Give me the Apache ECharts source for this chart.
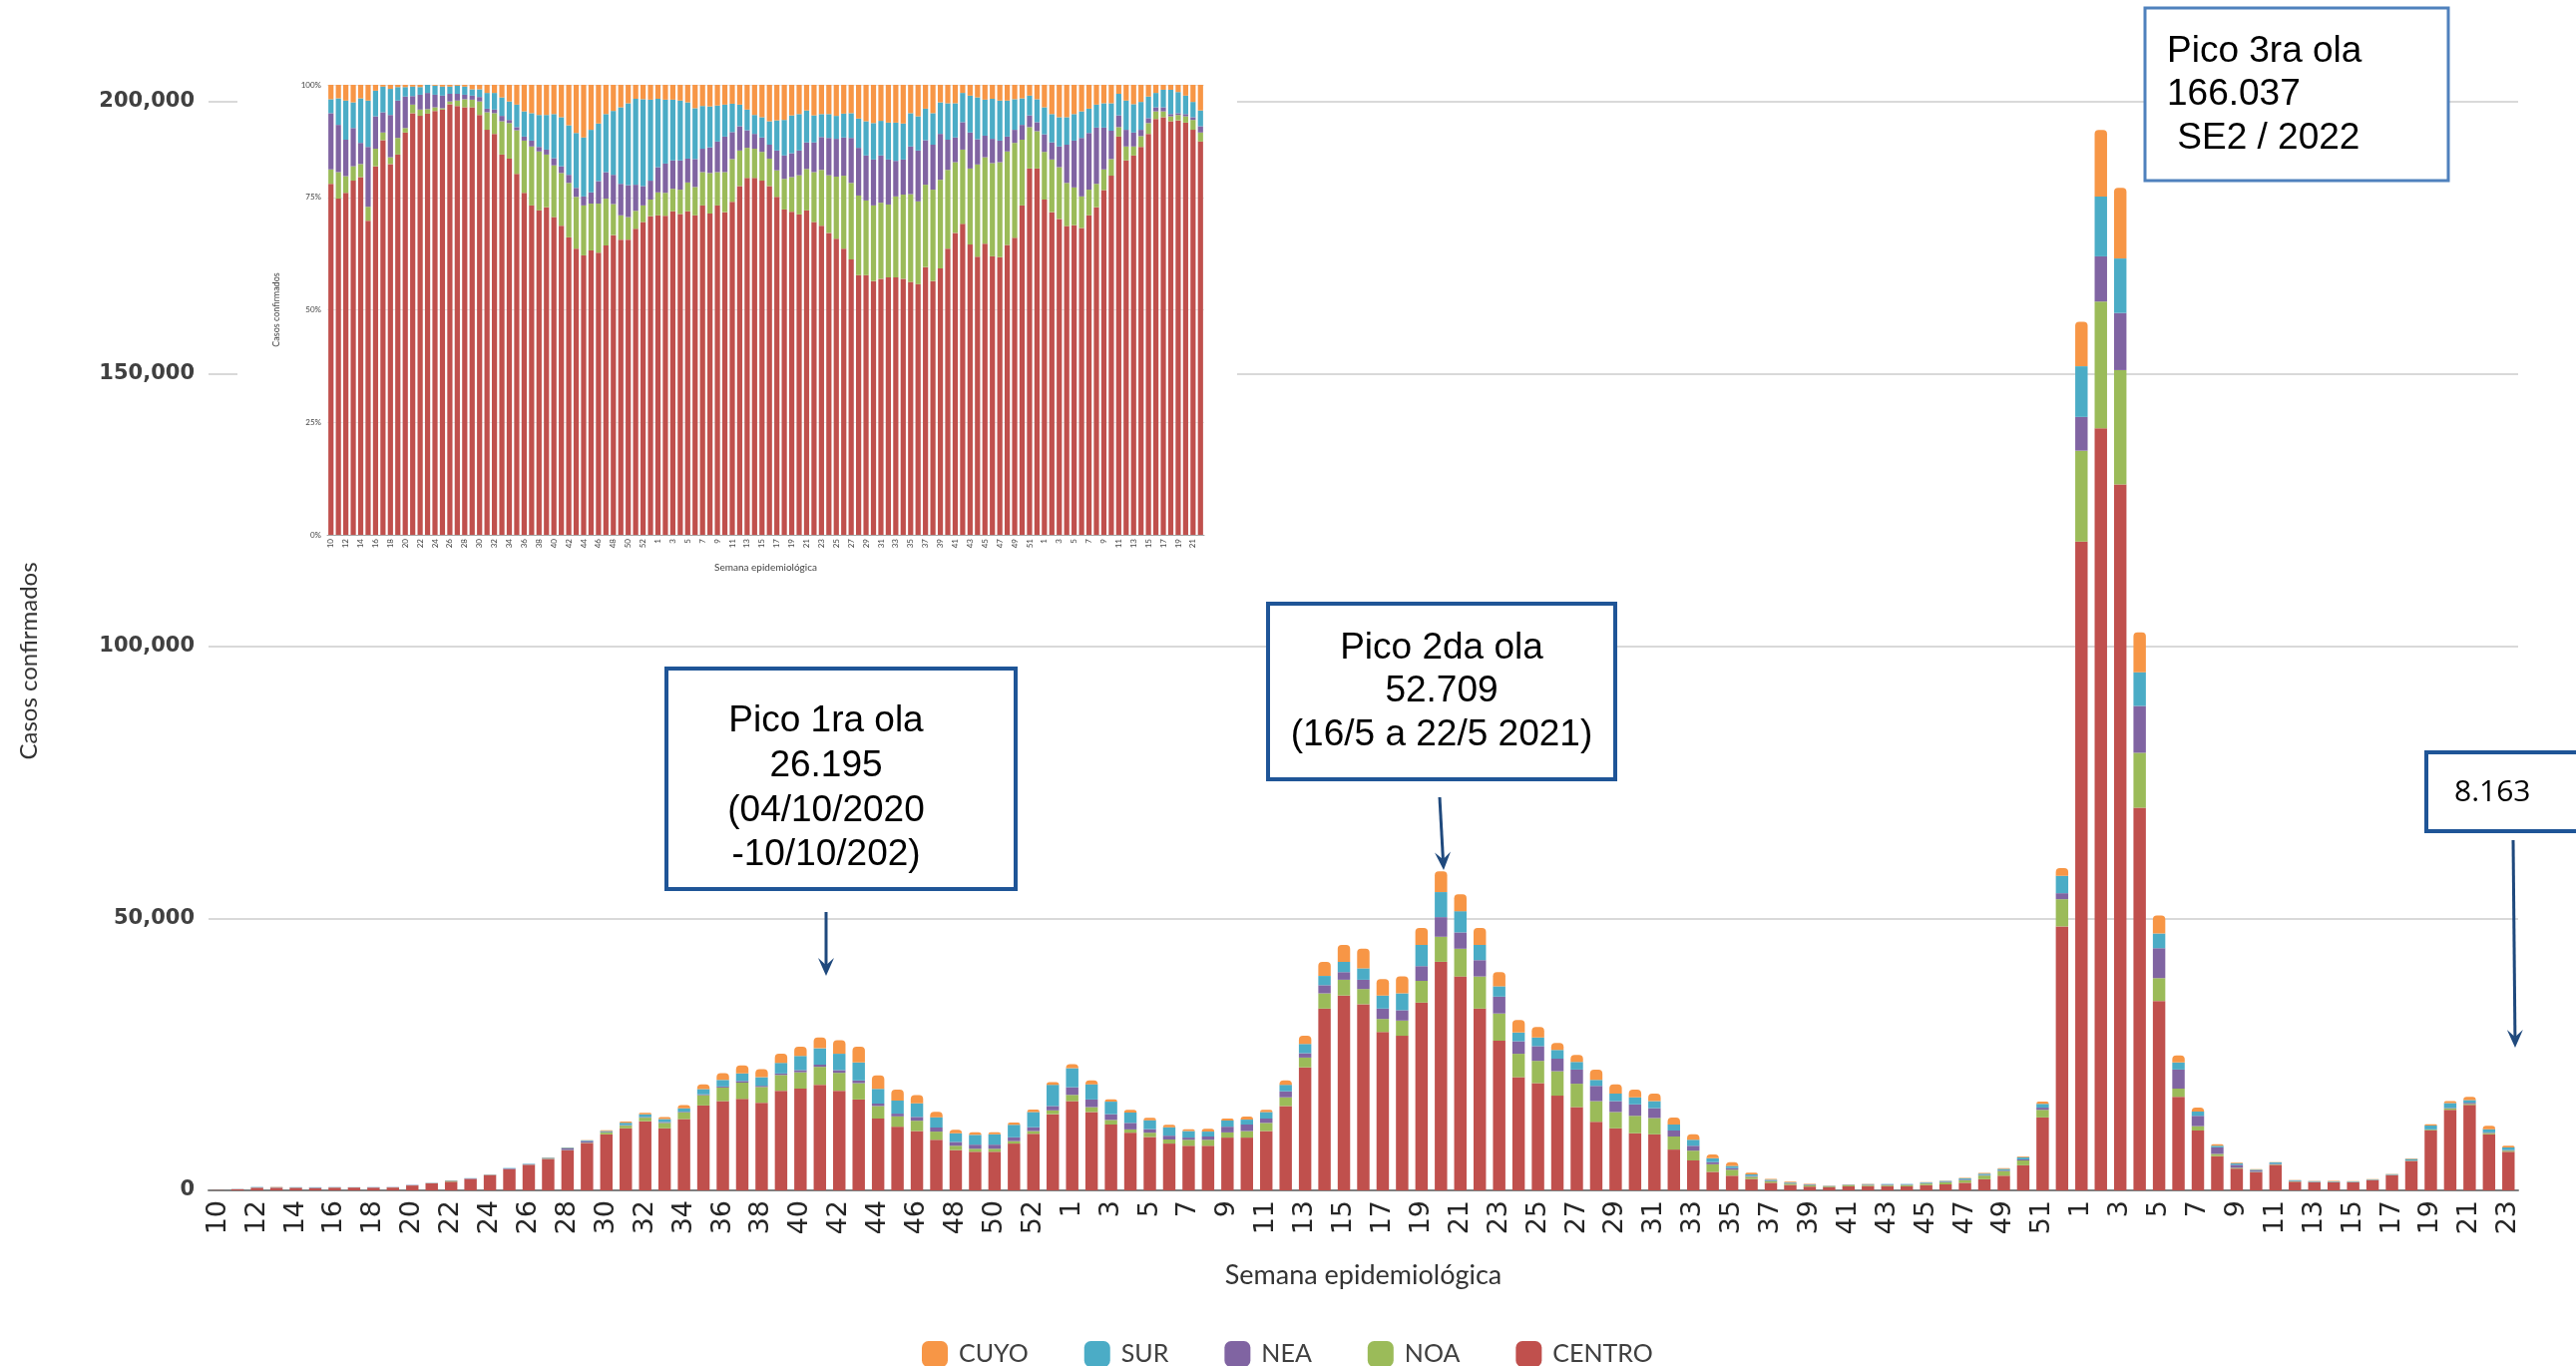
<!DOCTYPE html>
<html>
<head>
<meta charset="utf-8">
<script src="https://cdn.jsdelivr.net/npm/echarts@6.0.0/dist/echarts.min.js"></script>
<style>
  html, body { margin: 0; padding: 0; background: #fff; }
  #chart { width: 2582px; height: 1369px; }
</style>
</head>
<body>
<div id="chart"></div>
<script>
// semanas epidemiológicas 2020 (10-53), 2021 (1-52), 2022 (1-23)
const weeks2020 = ['10','11','12','13','14','15','16','17','18','19','20','21','22','23','24','25','26','27','28','29','30','31','32','33','34','35','36','37','38','39','40','41','42','43','44','45','46','47','48','49','50','51','52','53'];
const weeks2021 = ['1','2','3','4','5','6','7','8','9','10','11','12','13','14','15','16','17','18','19','20','21','22','23','24','25','26','27','28','29','30','31','32','33','34','35','36','37','38','39','40','41','42','43','44','45','46','47','48','49','50','51','52'];
const weeks2022 = ['1','2','3','4','5','6','7','8','9','10','11','12','13','14','15','16','17','18','19','20','21','22','23'];
const weeks = weeks2020.concat(weeks2021, weeks2022);
// el recuadro porcentual llega hasta SE 22 de 2022
const insetWeeks = weeks.slice(0, 118);

const regions = ['CENTRO', 'NOA', 'NEA', 'SUR', 'CUYO'];
const colors = ['#C0504D', '#9BBB59', '#8064A2', '#4BACC6', '#F79646'];

// casos confirmados por región (gráfico principal)
const centro = [30,200,480,480,480,420,500,520,500,520, 900,1300,1600,2100,2750,3900,4700,5750,7350,8700, 10300,11400,12700,11400,13100,15600,16400,16800,16100,18300, 18700,19400,18300,16700,13200,11700,10900,9300,7400,7100, 7100,8600,10400,14000,
  16400,14400,12100,10600,9800,8600,8200,8200,9700,9700, 10900,15500,22600,33400,35800,34200,29100,28400,34500,42000, 39300,33400,27500,20800,19700,17400,15300,12600,11400,10500, 10300,7500,5500,3400,2700,2100,1400,1000,700,550, 750,800,780,750,970,1100,1400,2050,2700,4600, 13400,48500,
  119200,140000,129700,70300,34800,17200,11000,6300,4000,3300, 4700,1600,1500,1500,1500,1900,2800,5400,11000,14800, 15700,10300,7100];
const noa = [1,15,25,25,20,20,25,10,10,20, 10,25,150,20,25,12,30,70,60,60, 330,490,660,1000,1240,1900,2500,3000,2900,2900, 3000,3300,3300,3000,2300,1900,1900,1500,800,550, 550,450,500,700,
  1150,900,850,600,800,750,1100,1100,950,1200, 1500,1600,1800,2800,2900,2800,2400,2800,4000,4600, 5100,5900,5000,4300,4100,4500,4300,3800,3000,3200, 3000,2400,1800,1400,1100,400,250,250,230,150, 180,200,200,240,290,380,480,670,860,900, 1400,5000,
  16700,23300,21000,10100,4200,1500,800,400,150,100, 80,50,40,40,40,35,40,60,150,250, 200,250,200];
const nea = [4,30,55,55,30,80,45,25,55,50, 70,25,60,80,80,110,80,90,300,300, 110,100,110,160,110,140,190,300,220,280, 400,400,500,500,450,500,700,750,700,750, 750,700,700,800,
  1400,1400,1050,1200,650,700,400,600,1050,1200, 800,1100,800,1500,1400,1700,1900,1900,2700,3600, 3000,3000,3100,2300,2700,2300,2600,2800,2000,2100, 1800,1100,900,400,300,150,100,100,110,60, 60,70,90,70,70,100,110,100,120,200, 400,1100,
  6200,8300,10500,8600,5500,3500,1900,1200,550,250, 100,60,50,20,20,20,25,30,60,100, 200,100,100];
const sur = [1,15,60,35,60,60,35,35,35,20, 20,30,30,40,55,80,80,110,140,130, 190,440,530,550,640,980,1200,1400,1570,1950, 2600,3000,3000,3300,2700,2400,2500,1900,1600,1800, 1900,2300,2800,3900,
  3500,2800,2300,1900,1650,1550,1200,900,1150,900, 1200,1200,1700,1700,1900,2100,2400,3100,3900,4600, 3900,2800,1900,1600,1600,1600,1400,1100,1400,1300, 1300,1100,1100,700,400,300,200,100,80,70, 80,80,100,110,120,160,200,260,280,400, 700,3200,
  9300,11000,10000,6200,2700,1300,800,300,250,150, 250,150,100,100,80,70,110,300,700,900, 500,600,500];
const cuyo = [1,8,25,25,20,20,8,3,5,3, 5,5,8,0,5,15,20,12,30,90, 110,230,260,380,580,860,1260,1450,1500,1680, 1700,2000,2500,2900,2500,2000,1500,1000,650,500, 400,400,450,500,
  750,700,450,500,450,450,350,500,350,550, 400,800,1500,2600,3100,3600,3000,3100,3100,3800, 3100,3100,2600,2300,1900,1300,1300,1900,1700,1400, 1400,1300,1000,700,700,300,150,150,50,30, 50,25,30,35,50,60,80,110,130,150, 400,1400,
  8200,12200,13000,7300,3300,1300,700,300,150,100, 70,60,60,60,40,35,30,60,250,350, 600,600,300];

// distribución porcentual por región (recuadro)
const insetCentro = [78.0,74.7,76.0,78.7,79.5,69.8,81.9,87.7,82.4,84.5, 89.4,93.7,93.1,93.6,94.2,94.5,95.7,95.3,95.0,95.0, 93.3,90.0,89.1,84.5,83.6,80.2,76.0,73.2,72.1,72.8, 70.6,68.7,66.1,63.6,62.1,63.2,62.7,64.3,66.6,65.6, 65.6,68.0,69.5,70.8,
  71.0,70.9,71.9,71.3,71.9,71.0, 73.2,71.4,73.2,71.7,74.0,77.5,79.3,79.3,78.7,77.5, 75.1,72.3,71.8,71.2,72.1,69.5,68.7,67.1,65.8,63.6, 61.2,57.7,57.7,56.4,56.9,57.2,57.2,56.9,56.2,55.7, 59.5,56.4,59.2,63.6,67.1,69.1,64.5,61.8,64.7,61.9, 61.7,64.4,66.0,73.2,81.4,81.4,
  74.5,71.7,70.2,68.6,68.8,68.2,71.0,72.8,76.6,79.8, 88.5,83.2,84.3,86.2,89.1,92.4,92.8,91.9,92.1,91.6, 90.0,87.4];
const insetNoa = [3.2,5.9,3.7,3.2,2.9,3.1,3.9,1.7,1.5,3.7, 1.0,1.9,1.4,1.0,0.8,0.3,0.6,1.2,1.8,1.7, 3.0,3.9,4.6,7.4,7.9,9.7,11.6,13.1,13.1,11.7, 11.5,11.7,12.1,11.5,11.1,10.4,10.9,10.4,6.9,5.4, 5.0,4.0,3.7,3.7,
  5.1,5.1,5.0,5.4,6.4,6.3, 7.4,9.0,7.4,8.9,9.5,7.9,6.7,6.5,6.4,6.1, 5.9,6.8,7.7,8.7,9.2,11.1,12.4,12.8,13.8,16.2, 17.0,17.7,16.6,16.8,16.9,16.2,18.0,18.7,19.5,18.4, 18.3,20.3,19.7,17.5,15.7,16.5,16.9,20.5,19.2,20.7, 21.1,20.8,21.1,14.6,9.2,8.3,
  10.6,11.7,11.5,9.6,8.4,7.0,5.7,5.2,4.6,3.7, 2.1,3.1,2.0,2.4,2.4,1.7,1.3,1.1,1.2,1.4, 2.2,2.0];
const insetNea = [12.5,10.5,8.1,8.5,4.7,13.3,7.2,4.5,9.4,8.3, 7.0,1.9,3.3,3.6,2.8,2.8,1.7,1.5,1.0,0.9, 1.0,0.8,0.8,1.2,0.7,0.7,0.9,1.3,1.0,1.1, 1.6,1.5,1.8,2.0,2.0,2.5,5.0,5.9,6.5,7.0, 7.1,5.8,4.3,4.2,
  5.6,6.5,6.3,6.5,5.3,6.2, 5.2,5.7,6.8,7.9,6.0,5.4,3.9,3.3,3.2,3.1, 4.4,5.2,5.3,5.5,5.9,6.6,7.3,8.3,8.4,8.5, 10.0,10.6,10.0,10.2,10.5,10.0,7.9,7.8,10.6,11.3, 9.9,10.0,10.2,6.7,5.5,6.1,8.0,5.6,4.8,5.4, 4.8,3.3,2.9,3.3,2.6,2.0,
  3.9,3.8,4.6,8.5,10.4,13.0,12.6,12.5,9.3,6.3, 2.6,3.7,3.1,1.4,1.1,0.9,0.9,0.5,0.4,0.5, 0.6,1.4];
const insetSur = [3.1,5.9,8.7,5.7,9.9,10.3,5.7,5.7,5.8,3.0, 2.1,2.1,1.7,1.8,2.0,2.0,1.6,1.8,1.8,1.4, 1.7,3.5,3.7,4.1,4.1,5.0,5.6,6.1,7.1,7.7, 9.8,10.9,11.0,12.2,13.1,13.9,12.8,12.9,14.2,17.0, 18.2,19.1,19.3,18.0,
  15.2,14.2,13.5,13.3,12.5,11.3, 9.5,9.1,8.0,7.1,6.3,4.8,4.6,4.2,4.5,5.2, 6.7,7.9,8.4,8.1,7.1,6.0,5.1,5.3,5.1,5.3, 5.5,6.5,7.6,8.1,7.7,8.2,8.5,8.0,7.4,7.6, 7.0,7.0,7.0,8.1,7.6,6.5,8.2,9.3,8.0,8.9, 8.9,8.0,6.8,5.9,4.4,5.1,
  6.0,6.3,6.5,6.1,5.9,5.9,5.4,5.1,5.4,6.1, 4.8,6.5,6.3,6.2,4.8,3.2,3.9,5.4,4.7,4.1, 3.4,3.5];
const insetCuyo = [3.2,3.0,3.5,3.9,3.0,3.5,1.3,0.4,0.9,0.5, 0.5,0.4,0.5,0.0,0.2,0.4,0.4,0.2,0.4,1.0, 1.0,1.8,1.8,2.8,3.7,4.4,5.9,6.3,6.7,6.7, 6.5,7.2,9.0,10.7,11.7,10.0,8.6,6.5,5.8,5.0, 4.1,3.1,3.2,3.3,
  3.1,3.3,3.3,3.5,3.9,5.2, 4.7,4.8,4.6,4.4,4.2,4.4,5.5,6.7,7.2,8.1, 7.9,7.8,6.8,6.5,5.7,6.8,6.5,6.5,6.9,6.4, 6.3,7.5,8.1,8.5,8.0,8.4,8.4,8.6,6.3,7.0, 5.3,6.3,3.9,4.1,4.1,1.8,2.4,2.8,3.3,3.1, 3.5,3.5,3.2,3.0,2.4,3.2,
  5.0,6.5,7.2,7.2,6.5,5.9,5.3,4.4,4.1,4.1, 2.0,3.5,4.3,3.8,2.6,1.8,1.1,1.1,1.6,2.4, 3.8,5.7];

const mainValues = [centro, noa, nea, sur, cuyo];
const insetValues = [insetCentro, insetNoa, insetNea, insetSur, insetCuyo];

const boxBlue = '#1F5597';
const arrowBlue = '#1F497D';

// flecha: línea + punta
function arrow(x1, y1, x2, y2) {
    let a = Math.atan2(y2 - y1, x2 - x1);
    let L = 18, W = 8;
    let bx = x2 - L * Math.cos(a), by = y2 - L * Math.sin(a);
    let mx = x2 - L * 0.6 * Math.cos(a), my = y2 - L * 0.6 * Math.sin(a);
    let nx = -Math.sin(a) * W, ny = Math.cos(a) * W;
    return [
        { type: 'line', z: 20, shape: { x1: x1, y1: y1, x2: mx, y2: my }, style: { stroke: arrowBlue, lineWidth: 3 } },
        { type: 'polygon', z: 20, shape: { points: [[x2, y2], [bx + nx, by + ny], [mx, my], [bx - nx, by - ny]] }, style: { fill: arrowBlue } }
    ];
}

function boxText(x, y, text, size, align, family) {
    return {
        type: 'text', z: 21, x: x, y: y,
        style: { text: text, fill: '#000', fontSize: size, fontFamily: family || 'Liberation Sans, Arial, sans-serif', align: align || 'center', verticalAlign: 'middle' }
    };
}

let series = [];
for (let i = 0; i < regions.length; i++) {
    series.push({
        name: regions[i], type: 'bar', stack: 'casos',
        xAxisIndex: 0, yAxisIndex: 0,
        barCategoryGap: '36%',
        itemStyle: { color: colors[i], borderRadius: i === regions.length - 1 ? [4, 4, 0, 0] : 0 },
        data: mainValues[i]
    });
}
for (let i = 0; i < regions.length; i++) {
    series.push({
        name: regions[i], type: 'bar', stack: 'porcentaje',
        xAxisIndex: 1, yAxisIndex: 1, z: 4,
        barCategoryGap: '30%',
        itemStyle: { color: colors[i] },
        data: insetValues[i]
    });
}

let graphic = [
    // fondo blanco del recuadro porcentual
    { type: 'rect', z: 1, shape: { x: 238, y: 66, width: 1002, height: 526 }, style: { fill: '#fff' } },
    // Pico 1ra ola
    { type: 'rect', z: 19, shape: { x: 668, y: 670, width: 350, height: 221 }, style: { fill: '#fff', stroke: boxBlue, lineWidth: 4 } },
    boxText(828, 723, 'Pico 1ra ola', 37),
    boxText(828, 768, '26.195', 37),
    boxText(828, 813, '(04/10/2020', 37),
    boxText(828, 857, '-10/10/202)', 37),
    // Pico 2da ola
    { type: 'rect', z: 19, shape: { x: 1271, y: 605, width: 348, height: 176 }, style: { fill: '#fff', stroke: boxBlue, lineWidth: 4 } },
    boxText(1445, 650, 'Pico 2da ola', 37),
    boxText(1445, 693, '52.709', 37),
    boxText(1445, 737, '(16/5 a 22/5 2021)', 37),
    // Pico 3ra ola
    { type: 'rect', z: 19, shape: { x: 2150, y: 8, width: 304, height: 173 }, style: { fill: '#fff', stroke: '#4F81BD', lineWidth: 3 } },
    boxText(2172, 52, 'Pico 3ra ola', 37, 'left'),
    boxText(2172, 95, '166.037', 37, 'left'),
    boxText(2172, 139, ' SE2 / 2022', 37, 'left'),
    // último valor
    { type: 'rect', z: 19, shape: { x: 2432, y: 754, width: 170, height: 79 }, style: { fill: '#fff', stroke: boxBlue, lineWidth: 4 } },
    boxText(2460, 794, '8.163', 30, 'left', 'Open Sans, sans-serif')
].concat(arrow(828, 914, 828, 978), arrow(1443, 799, 1447, 872), arrow(2519, 842, 2521, 1050));

let chart = echarts.init(document.getElementById('chart'));
chart.setOption({
    animation: false,
    backgroundColor: '#fff',
    grid: [
        { left: 209, top: 102, width: 2315, height: 1091 },
        { left: 328, top: 85, width: 879, height: 451 }
    ],
    legend: {
        data: ['CUYO', 'SUR', 'NEA', 'NOA', 'CENTRO'],
        left: 919, top: 1339,
        icon: 'roundRect', itemWidth: 26, itemHeight: 26, itemGap: 56,
        textStyle: { fontSize: 25, fontFamily: 'Lato, sans-serif', color: '#404040', padding: [0, 0, 0, 6] }
    },
    xAxis: [
        {
            type: 'category', gridIndex: 0, data: weeks,
            name: 'Semana epidemiológica', nameLocation: 'middle', nameGap: 72,
            nameTextStyle: { fontSize: 27, fontFamily: 'Lato, sans-serif', color: '#333' },
            axisLine: { lineStyle: { color: '#7F7F7F', width: 2 } },
            axisTick: { show: false },
            axisLabel: { interval: 1, rotate: 90, margin: 10, fontSize: 27, fontFamily: 'DejaVu Sans, sans-serif', color: '#262626' }
        },
        {
            type: 'category', gridIndex: 1, data: insetWeeks, z: 3,
            name: 'Semana epidemiológica', nameLocation: 'middle', nameGap: 28,
            nameTextStyle: { fontSize: 10, fontFamily: 'Lato, sans-serif', color: '#444' },
            axisLine: { lineStyle: { color: '#A6A6A6', width: 1 } },
            axisTick: { show: false },
            axisLabel: { interval: 1, rotate: 90, margin: 4, fontSize: 8, fontFamily: 'Lato, sans-serif', color: '#444' }
        }
    ],
    yAxis: [
        {
            type: 'value', gridIndex: 0, min: 0, max: 200000, interval: 50000,
            name: 'Casos confirmados', nameLocation: 'middle', nameGap: 168, nameRotate: 90,
            nameTextStyle: { fontSize: 24, fontFamily: 'Lato, sans-serif', color: '#333', padding: [0, 30, 0, 0] },
            axisLine: { show: false }, axisTick: { show: false },
            axisLabel: {
                margin: 14, fontSize: 21, fontWeight: 'bold', fontFamily: 'DejaVu Sans, sans-serif', color: '#404040',
                formatter: function (v) { return v.toLocaleString('en-US'); }
            },
            splitLine: { lineStyle: { color: '#D9D9D9', width: 2 } }
        },
        {
            type: 'value', gridIndex: 1, min: 0, max: 100, interval: 25, z: 3,
            name: 'Casos confirmados', nameLocation: 'middle', nameGap: 46, nameRotate: 90,
            nameTextStyle: { fontSize: 9, fontFamily: 'Lato, sans-serif', color: '#444' },
            axisLine: { show: false }, axisTick: { show: false },
            axisLabel: { margin: 6, fontSize: 8, fontFamily: 'Lato, sans-serif', color: '#444', formatter: '{value}%' },
            splitLine: { lineStyle: { color: '#E6E6E6', width: 1 } }
        }
    ],
    series: series,
    graphic: graphic
});
</script>
</body>
</html>
